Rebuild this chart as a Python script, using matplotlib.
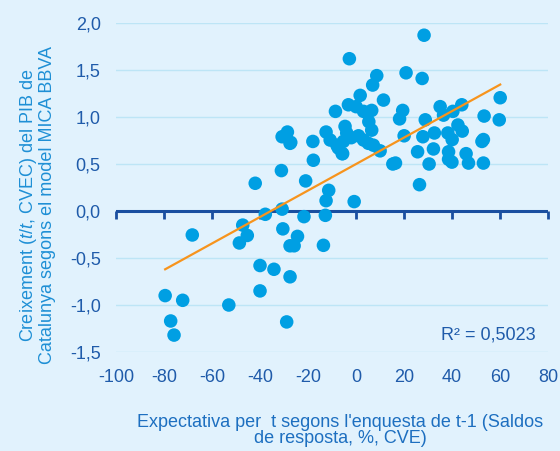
import matplotlib.pyplot as plt
import numpy as np
from matplotlib.ticker import FuncFormatter, MultipleLocator

plt.rcParams['font.family'] = ['Liberation Sans', 'DejaVu Sans']
plt.rcParams['axes.unicode_minus'] = False
plt.rcParams['mathtext.fontset'] = 'custom'
plt.rcParams['mathtext.it'] = 'Liberation Sans:italic'
plt.rcParams['mathtext.rm'] = 'Liberation Sans'

# expectativa (saldos de resposta) vs creixement t/t del PIB
expect = [-79.5, -72.2, -77.2, -75.8, -68.2, -53.0, -48.6, -47.2, -45.3, -42.0,
          -37.8, -40.0, -34.2, -40.0, -31.1, -30.8, -30.5, -28.9, -27.5, -27.5,
          -18.0, -17.8, -21.0, -11.4, -12.5, -0.8, -21.7, -12.8, -24.4, -25.8,
          -13.6, -27.5, -5.8, -28.6, -27.2, -30.8, -2.8, 28.3, 20.8, 27.5,
          8.6, 6.9, 1.7, 11.4, -3.2, -8.6, 0.0, 6.5, 3.1, 5.3,
          6.5, -4.6, -3.9, -12.5, -10.8, -7.4, -5.6, -5.3, 1.0, 3.1,
          5.1, 7.2, 10.0, 15.3, 16.4, 19.4, 18.1, 20.0, 26.4, 28.8,
          27.8, 25.6, 30.4, 32.2, 32.6, 35.0, 36.4, 40.3, 44.0, 38.2,
          40.0, 38.5, 38.5, 39.9, 42.4, 44.2, 45.8, 46.8, 53.3, 53.0,
          52.4, 53.0, 60.0, 59.6, -8.0, -2.0]
pib = [-0.90, -0.95, -1.17, -1.32, -0.255, -1.00, -0.34, -0.15, -0.26, 0.295,
       -0.035, -0.58, -0.62, -0.85, 0.43, 0.02, -0.19, -1.18, -0.37, -0.70,
       0.74, 0.54, 0.32, 0.22, 0.11, 0.10, -0.06, -0.046, -0.27, -0.37,
       -0.365, 0.72, 0.61, 0.84, 0.73, 0.79, 1.62, 1.87, 1.47, 1.41,
       1.44, 1.34, 1.23, 1.18, 1.13, 1.06, 1.11, 1.07, 1.06, 0.95,
       0.86, 0.90, 0.83, 0.84, 0.755, 0.67, 0.61, 0.74, 0.80, 0.755,
       0.72, 0.70, 0.64, 0.50, 0.51, 1.07, 0.98, 0.80, 0.28, 0.97,
       0.79, 0.63, 0.50, 0.66, 0.83, 1.11, 1.02, 1.06, 1.13, 0.83,
       0.76, 0.63, 0.55, 0.52, 0.915, 0.85, 0.61, 0.51, 1.01, 0.76,
       0.74, 0.51, 1.205, 0.97, 0.70, 0.78]

r2_label = 'R² = 0,5023'

bg = '#E1F2FD'
dark = '#1F5BAA'
axis_col = '#1A4FA0'

fig = plt.figure(figsize=(5.6, 4.51), dpi=100, facecolor=bg)
ax = fig.add_axes([0.207, 0.2195, 0.772, 0.7295], facecolor=bg)

ax.scatter(expect, pib, s=95, color='#009FE3', edgecolors='none', zorder=3)

# linear trend over the data range
x = np.array(expect)
slope, icpt = np.polyfit(x, np.array(pib), 1)
xs = np.array([x.min(), x.max()])
ax.plot(xs, slope * xs + icpt, color='#F7941D', lw=1.6, zorder=4)

ax.set_xlim(-100, 80)
ax.set_ylim(-1.5, 2.0)
ax.xaxis.set_major_locator(MultipleLocator(20))
ax.yaxis.set_major_locator(MultipleLocator(0.5))
ax.yaxis.set_major_formatter(FuncFormatter(lambda v, p: f'{v:.1f}'.replace('.', ',')))
ax.grid(axis='y', color='#BDE5F6', lw=1, zorder=0)
ax.set_axisbelow(True)
for s in ax.spines.values():
    s.set_visible(False)
ax.tick_params(axis='both', length=0, labelsize=13, labelcolor=dark)
ax.tick_params(axis='x', pad=12)
ax.tick_params(axis='y', pad=11)

# axis line at y = 0 with ticks, labels stay at the bottom
ax.axhline(0, color=axis_col, lw=2.2, zorder=2)
sec = ax.secondary_xaxis(1.5 / 3.5)
sec.xaxis.set_major_locator(MultipleLocator(20))
sec.spines['bottom'].set_visible(False)
sec.tick_params(axis='x', length=6, width=2, color=axis_col, labelbottom=False)

fig.text(0.066, 0.545, 'Creixement ($\\it{t/t}$, CVEC) del PIB de\nCatalunya segons el model MICA BBVA',
         rotation=90, ha='center', va='center', fontsize=13, color='#1E8FD5', linespacing=0.98)
fig.text(0.608, 0.008, "Expectativa per  t segons l'enquesta de t-1 (Saldos\nde resposta, %, CVE)",
         ha='center', va='bottom', fontsize=13, color='#1D6FC0', linespacing=0.95)

ax.text(0.97, 0.025, r2_label, transform=ax.transAxes, ha='right', va='bottom',
        fontsize=13, color=dark)

fig.savefig('out.png', dpi=100, facecolor=bg)
